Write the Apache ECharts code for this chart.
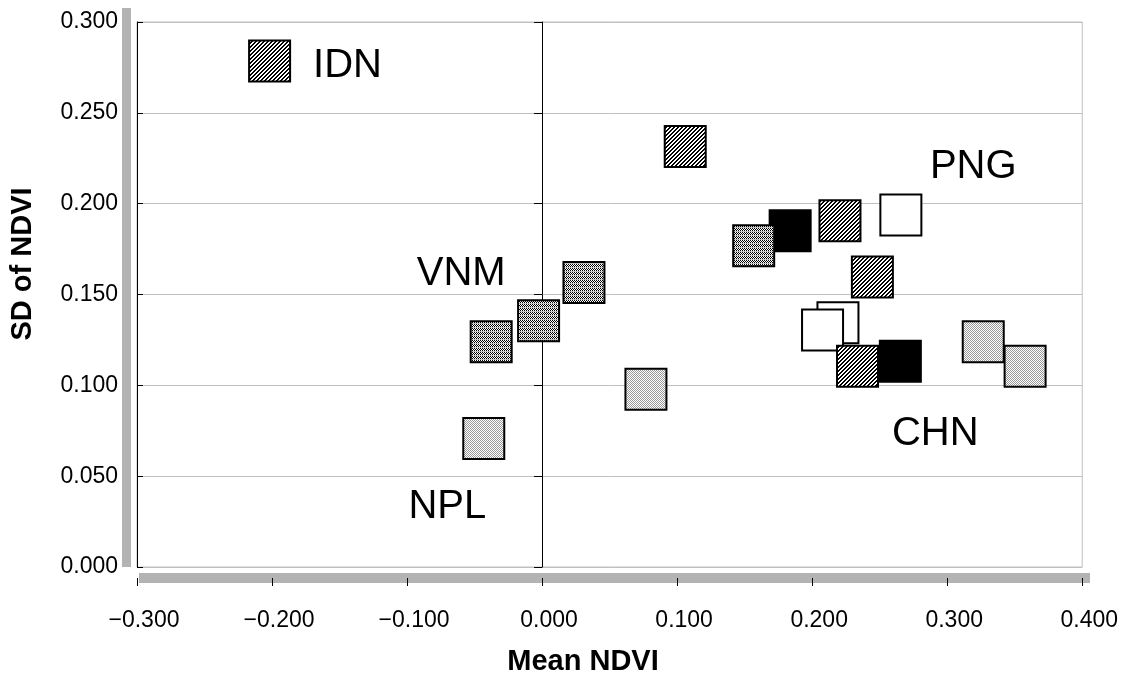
<!DOCTYPE html>
<html>
<head>
<meta charset="utf-8">
<script src="https://cdn.jsdelivr.net/npm/echarts@6/dist/echarts.min.js"></script>
<style>
  html, body { margin: 0; padding: 0; background: #fff; }
  #chart { width: 1121px; height: 673px; }
</style>
</head>
<body>
<div id="chart"></div>
<script>
// ---- data ----
const xTicks = [-0.3, -0.2, -0.1, 0.0, 0.1, 0.2, 0.3, 0.4];
const yTicks = [0.0, 0.05, 0.10, 0.15, 0.20, 0.25, 0.30];
const xTitle = 'Mean NDVI';
const yTitle = 'SD of NDVI';

const whitePts = [[0.2657, 0.1937], [0.2191, 0.1345], [0.2077, 0.1304]];
const blackPts = [[0.1837, 0.1851], [0.2653, 0.1133]];
const diagPts  = [[0.106, 0.2315], [0.2206, 0.1906], [0.2446, 0.1597], [0.2336, 0.1105]];
const hdotPts  = [[-0.0377, 0.124], [-0.0026, 0.1356], [0.031, 0.1566], [0.1567, 0.1768]];
const lightPts = [[-0.0432, 0.0707], [0.0769, 0.0978], [0.3267, 0.124], [0.3577, 0.1105]];
const keyPts   = [[-0.2018, 0.2785]];

const labelNames = ['IDN', 'PNG', 'VNM', 'CHN', 'NPL'];
const labelPos   = [[-0.1441, 0.276], [0.3193, 0.2204], [-0.0599, 0.1613], [0.2912, 0.0735], [-0.0702, 0.0331]];

// ---- patterns ----
function pattern(kind) {
  const c = document.createElement('canvas');
  c.width = 4; c.height = 4;
  const g = c.getContext('2d');
  g.fillStyle = '#ffffff'; g.fillRect(0, 0, 4, 4);
  if (kind === 'diag') {
    g.fillStyle = '#000000';
    for (let r = 0; r < 4; r++) {
      g.fillRect((4 - r) % 4, r, 1, 1);
      g.fillRect((5 - r) % 4, r, 1, 1);
    }
  } else if (kind === 'hdot') {
    g.fillStyle = '#000000';
    for (let r = 0; r < 3; r++) {
      for (let x = 0; x < 4; x++) if ((x + r) % 2 === 0) g.fillRect(x, r, 1, 1);
    }
    g.fillStyle = '#c0c0c0';
    g.fillRect(0, 3, 4, 1);
  } else if (kind === 'light') {
    g.fillStyle = '#999999';
    for (let r = 0; r < 4; r++) {
      for (let x = 0; x < 4; x++) if ((x + r) % 2 === 0) g.fillRect(x, r, 1, 1);
    }
  }
  return { image: c, repeat: 'repeat' };
}

const tickFont = "'Liberation Sans', Arial, sans-serif";
const BOX = 41;

function boxSeries(name, data, fill) {
  return {
    name: name, type: 'custom', coordinateSystem: 'cartesian2d', data: data,
    encode: { x: 0, y: 1 }, silent: true, animation: false, clip: false,
    renderItem: function (params, api) {
      const c = api.coord([api.value(0), api.value(1)]);
      return {
        type: 'rect',
        shape: { x: c[0] - BOX / 2, y: c[1] - BOX / 2, width: BOX, height: BOX },
        style: { fill: fill, stroke: '#000', lineWidth: 2 }
      };
    }
  };
}

const chart = echarts.init(document.getElementById('chart'), null, { renderer: 'canvas' });
const fmtX = v => (Math.abs(v) < 1e-9 ? '0.000' : (v < 0 ? '\u2212' : '') + Math.abs(v).toFixed(3));

chart.setOption({
  animation: false,
  backgroundColor: '#ffffff',
  grid: { left: 137, right: 34, top: 22, bottom: 106, show: true, borderColor: '#c0c0c0', borderWidth: 1, backgroundColor: '#fff' },
  xAxis: {
    type: 'value', min: xTicks[0], max: xTicks[xTicks.length - 1], interval: 0.1,
    position: 'bottom', offset: 11, z: 10,
    axisLine: { show: false, onZero: false },
    axisTick: { show: true, length: 8, lineStyle: { color: '#000', width: 1 } },
    axisLabel: { color: '#000', fontFamily: tickFont, fontSize: 23, margin: 31, formatter: fmtX, padding: [0, 0, 0, 14] },
    splitLine: { show: false }
  },
  yAxis: [
    {
      type: 'value', min: yTicks[0], max: yTicks[yTicks.length - 1], interval: 0.05,
      position: 'left', offset: 11,
      axisLine: { show: false, onZero: false },
      axisTick: { show: false },
      axisLabel: { color: '#000', fontFamily: tickFont, fontSize: 23, margin: 8, formatter: v => v.toFixed(3) },
      splitLine: { show: true, lineStyle: { color: '#c0c0c0', width: 1 } }
    },
    {
      type: 'value', min: yTicks[0], max: yTicks[yTicks.length - 1], interval: 0.05,
      position: 'left',
      axisLine: { show: true, onZero: true, lineStyle: { color: '#000', width: 1 } },
      axisTick: { show: true, inside: false, length: 8, lineStyle: { color: '#000', width: 1 } },
      axisLabel: { show: false }, splitLine: { show: false }
    },
    {
      type: 'value', min: yTicks[0], max: yTicks[yTicks.length - 1], interval: 0.05,
      position: 'left',
      axisLine: { show: true, onZero: true, lineStyle: { color: '#000', width: 1 } },
      axisTick: { show: true, inside: true, length: 6, lineStyle: { color: '#000', width: 1 } },
      axisLabel: { show: false }, splitLine: { show: false }
    }
  ],
  series: [
    boxSeries('white', whitePts, '#ffffff'),
    boxSeries('black', blackPts, '#000000'),
    boxSeries('diag', diagPts, pattern('diag')),
    boxSeries('key', keyPts, pattern('diag')),
    boxSeries('hdot', hdotPts, pattern('hdot')),
    boxSeries('light', lightPts, pattern('light')),
    {
      name: 'labels', type: 'custom', coordinateSystem: 'cartesian2d', silent: true, clip: false,
      data: labelPos, encode: { x: 0, y: 1 },
      renderItem: function (params, api) {
        const c = api.coord([api.value(0), api.value(1)]);
        return {
          type: 'text', x: c[0], y: c[1],
          style: { text: labelNames[params.dataIndex], fill: '#000', font: "40px 'Liberation Sans', Arial, sans-serif", align: 'center', verticalAlign: 'middle' }
        };
      }
    }
  ],
  graphic: [
    { type: 'rect', z: 5, shape: { x: 122, y: 8, width: 9, height: 559 }, style: { fill: '#b3b3b3' } },
    { type: 'rect', z: 5, shape: { x: 139, y: 573, width: 951, height: 10 }, style: { fill: '#b3b3b3' } },
    { type: 'text', x: 583, y: 662, style: { text: xTitle, font: "bold 29px 'Liberation Sans', Arial, sans-serif", fill: '#000', textAlign: 'center', textVerticalAlign: 'middle' } },
    { type: 'text', x: 23, y: 264, rotation: Math.PI / 2, style: { text: yTitle, font: "bold 29px 'Liberation Sans', Arial, sans-serif", fill: '#000', textAlign: 'center', textVerticalAlign: 'middle' } }
  ]
});
</script>
</body>
</html>
